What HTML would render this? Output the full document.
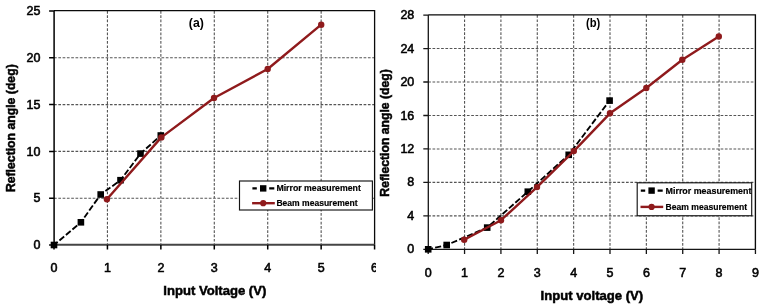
<!DOCTYPE html>
<html><head><meta charset="utf-8"><style>
html,body{margin:0;padding:0;background:#fff;}
body{width:765px;height:308px;overflow:hidden;position:relative;}
svg{position:absolute;left:0;top:0;display:block;}
text{font-family:'Liberation Sans', Arial, sans-serif;fill:#000;}
.tk{font-size:12.5px;stroke:#000;stroke-width:0.55px;}
.lg{font-size:9.5px;font-weight:bold;stroke:#000;stroke-width:0.2px;}
.pl{font-size:12px;font-weight:bold;}
.ti{font-size:13px;font-weight:bold;stroke:#000;stroke-width:0.5px;}
</style></head><body>
<svg width="765" height="308" viewBox="0 0 765 308">
<defs><clipPath id="cl"><rect x="0" y="0" width="376" height="308"/></clipPath></defs>
<g clip-path="url(#cl)">
<path d="M107.43 11V245M160.86 11V245M214.29 11V245M267.72 11V245M321.15 11V245M54 198.2H374.58M54 151.4H374.58M54 104.6H374.58M54 57.8H374.58" stroke="#555555" stroke-width="1.1" stroke-dasharray="2.7 1.6" fill="none"/>
<path d="M54 10.6H374.6V245" stroke="#0a0a0a" stroke-width="1.3" fill="none"/>
<path d="M54 244.8H374.6" stroke="#454545" stroke-width="2.0" fill="none"/>
<path d="M54.1 10.6V245M54 245v4.6M107.43 245v4.6M160.86 245v4.6M214.29 245v4.6M267.72 245v4.6M321.15 245v4.6M374.58 245v4.6M54.1 245h-5M54.1 198.2h-5M54.1 151.4h-5M54.1 104.6h-5M54.1 57.8h-5M54.1 11h-5" stroke="#000" stroke-width="1.5" fill="none"/>
<text x="40.5" y="249.1" text-anchor="end" class="tk">0</text>
<text x="40.5" y="202.3" text-anchor="end" class="tk">5</text>
<text x="40.5" y="155.5" text-anchor="end" class="tk">10</text>
<text x="40.5" y="108.7" text-anchor="end" class="tk">15</text>
<text x="40.5" y="61.9" text-anchor="end" class="tk">20</text>
<text x="40.5" y="15.1" text-anchor="end" class="tk">25</text>
<text x="54" y="272" text-anchor="middle" class="tk">0</text>
<text x="107.43" y="272" text-anchor="middle" class="tk">1</text>
<text x="160.86" y="272" text-anchor="middle" class="tk">2</text>
<text x="214.29" y="272" text-anchor="middle" class="tk">3</text>
<text x="267.72" y="272" text-anchor="middle" class="tk">4</text>
<text x="321.15" y="272" text-anchor="middle" class="tk">5</text>
<text x="374.58" y="272" text-anchor="middle" class="tk">6</text>
<polyline points="54,245 80.9,222.3 100.7,194.5 120.5,180.2 140.5,153.6 160.8,135.5" fill="none" stroke="#000" stroke-width="1.85" stroke-dasharray="6.2 2.3" stroke-dashoffset="1.4"/>
<rect x="50.7" y="241.7" width="6.6" height="6.6" fill="#000"/>
<rect x="77.6" y="219" width="6.6" height="6.6" fill="#000"/>
<rect x="97.4" y="191.2" width="6.6" height="6.6" fill="#000"/>
<rect x="117.2" y="176.9" width="6.6" height="6.6" fill="#000"/>
<rect x="137.2" y="150.3" width="6.6" height="6.6" fill="#000"/>
<rect x="157.5" y="132.2" width="6.6" height="6.6" fill="#000"/>
<polyline points="106.9,199.3 161.3,137.4 214,98 267.7,69 321.2,24.7" fill="none" stroke="#8f1a1c" stroke-width="2.4" stroke-linejoin="round"/>
<circle cx="106.9" cy="199.3" r="3.2" fill="#8f1a1c"/>
<circle cx="161.3" cy="137.4" r="3.2" fill="#8f1a1c"/>
<circle cx="214" cy="98" r="3.2" fill="#8f1a1c"/>
<circle cx="267.7" cy="69" r="3.2" fill="#8f1a1c"/>
<circle cx="321.2" cy="24.7" r="3.2" fill="#8f1a1c"/>
<rect x="239.5" y="181" width="132.9" height="29" fill="#fff" stroke="#141414" stroke-width="1.15"/>
<path d="M252.4 188.4h4.4M269.2 188.4h5.1" stroke="#000" stroke-width="2.1"/>
<rect x="260" y="185.2" width="6.4" height="6.4" fill="#000"/>
<path d="M252.1 203.2h22.7" stroke="#8f1a1c" stroke-width="2.4"/>
<circle cx="263.2" cy="203.2" r="3.1" fill="#8f1a1c"/>
<text x="276.4" y="191.2" class="lg" textLength="84.4" lengthAdjust="spacingAndGlyphs">Mirror measurement</text>
<text x="276.4" y="205.6" class="lg" textLength="81.2" lengthAdjust="spacingAndGlyphs">Beam measurement</text>
<text x="188.8" y="26.6" class="pl" textLength="15" lengthAdjust="spacingAndGlyphs">(a)</text>
<text x="163.3" y="294.9" class="ti" textLength="103" lengthAdjust="spacingAndGlyphs">Input Voltage (V)</text>
<text transform="translate(15.3 128.2) rotate(-90)" x="0" y="0" text-anchor="middle" class="ti" textLength="127.8" lengthAdjust="spacingAndGlyphs">Reflection angle (deg)</text>
</g>
<g>
<path d="M464.56 15.11V249.3M500.92 15.11V249.3M537.28 15.11V249.3M573.64 15.11V249.3M610 15.11V249.3M646.36 15.11V249.3M682.72 15.11V249.3M719.08 15.11V249.3M428.2 215.84H755.44M428.2 182.39H755.44M428.2 148.93H755.44M428.2 115.48H755.44M428.2 82.02H755.44M428.2 48.56H755.44" stroke="#555555" stroke-width="1.1" stroke-dasharray="2.7 1.6" fill="none"/>
<path d="M428.2 14.9H755.4V249.3" stroke="#0a0a0a" stroke-width="1.35" fill="none"/>
<path d="M428.2 249.4H755.4" stroke="#151515" stroke-width="1.3" fill="none"/>
<path d="M428.3 14.9V249.3M428.2 249.3v4.6M464.56 249.3v4.6M500.92 249.3v4.6M537.28 249.3v4.6M573.64 249.3v4.6M610 249.3v4.6M646.36 249.3v4.6M682.72 249.3v4.6M719.08 249.3v4.6M755.44 249.3v4.6M428.3 249.3h-5M428.3 215.84h-5M428.3 182.39h-5M428.3 148.93h-5M428.3 115.48h-5M428.3 82.02h-5M428.3 48.56h-5M428.3 15.11h-5" stroke="#151515" stroke-width="1.3" fill="none"/>
<text x="414.3" y="253.4" text-anchor="end" class="tk">0</text>
<text x="414.3" y="219.94" text-anchor="end" class="tk">4</text>
<text x="414.3" y="186.49" text-anchor="end" class="tk">8</text>
<text x="414.3" y="153.03" text-anchor="end" class="tk">12</text>
<text x="414.3" y="119.58" text-anchor="end" class="tk">16</text>
<text x="414.3" y="86.12" text-anchor="end" class="tk">20</text>
<text x="414.3" y="52.66" text-anchor="end" class="tk">24</text>
<text x="414.3" y="19.21" text-anchor="end" class="tk">28</text>
<text x="428.2" y="276.7" text-anchor="middle" class="tk">0</text>
<text x="464.56" y="276.7" text-anchor="middle" class="tk">1</text>
<text x="500.92" y="276.7" text-anchor="middle" class="tk">2</text>
<text x="537.28" y="276.7" text-anchor="middle" class="tk">3</text>
<text x="573.64" y="276.7" text-anchor="middle" class="tk">4</text>
<text x="610" y="276.7" text-anchor="middle" class="tk">5</text>
<text x="646.36" y="276.7" text-anchor="middle" class="tk">6</text>
<text x="682.72" y="276.7" text-anchor="middle" class="tk">7</text>
<text x="719.08" y="276.7" text-anchor="middle" class="tk">8</text>
<text x="755.44" y="276.7" text-anchor="middle" class="tk">9</text>
<polyline points="428.2,249.3 446.7,245 487.2,227.6 527.8,191.7 568.7,154.8 609.6,100.6" fill="none" stroke="#000" stroke-width="1.85" stroke-dasharray="6.2 2.3" stroke-dashoffset="1.4"/>
<rect x="424.9" y="246" width="6.6" height="6.6" fill="#000"/>
<rect x="443.4" y="241.7" width="6.6" height="6.6" fill="#000"/>
<rect x="483.9" y="224.3" width="6.6" height="6.6" fill="#000"/>
<rect x="524.5" y="188.4" width="6.6" height="6.6" fill="#000"/>
<rect x="565.4" y="151.5" width="6.6" height="6.6" fill="#000"/>
<rect x="606.3" y="97.3" width="6.6" height="6.6" fill="#000"/>
<polyline points="464.2,239.8 501,220.2 537,187.1 573.8,151.1 610,113.3 646.3,88 682.3,59.7 718.8,36.5" fill="none" stroke="#8f1a1c" stroke-width="2.4" stroke-linejoin="round"/>
<circle cx="464.2" cy="239.8" r="3.2" fill="#8f1a1c"/>
<circle cx="501" cy="220.2" r="3.2" fill="#8f1a1c"/>
<circle cx="537" cy="187.1" r="3.2" fill="#8f1a1c"/>
<circle cx="573.8" cy="151.1" r="3.2" fill="#8f1a1c"/>
<circle cx="610" cy="113.3" r="3.2" fill="#8f1a1c"/>
<circle cx="646.3" cy="88" r="3.2" fill="#8f1a1c"/>
<circle cx="682.3" cy="59.7" r="3.2" fill="#8f1a1c"/>
<circle cx="718.8" cy="36.5" r="3.2" fill="#8f1a1c"/>
<rect x="637.2" y="182.8" width="114.5" height="32.95" fill="#fff" stroke="#141414" stroke-width="1.15"/>
<path d="M640.8 190.6h4.4M657.6 190.6h5.1" stroke="#000" stroke-width="2.1"/>
<rect x="648.4" y="187.4" width="6.4" height="6.4" fill="#000"/>
<path d="M640.5 206.9h22.7" stroke="#8f1a1c" stroke-width="2.4"/>
<circle cx="651.6" cy="206.9" r="3.1" fill="#8f1a1c"/>
<text x="665.6" y="194" class="lg" textLength="85.8" lengthAdjust="spacingAndGlyphs">Mirror measurement</text>
<text x="665.6" y="210.3" class="lg" textLength="81.5" lengthAdjust="spacingAndGlyphs">Beam measurement</text>
<text x="586" y="26.6" class="pl" textLength="14.3" lengthAdjust="spacingAndGlyphs">(b)</text>
<text x="540.6" y="299.5" class="ti" textLength="102.6" lengthAdjust="spacingAndGlyphs">Input voltage (V)</text>
<text transform="translate(389.3 132.9) rotate(-90)" x="0" y="0" text-anchor="middle" class="ti" textLength="127.5" lengthAdjust="spacingAndGlyphs">Reflection angle (deg)</text>
</g>
</svg>
</body></html>
